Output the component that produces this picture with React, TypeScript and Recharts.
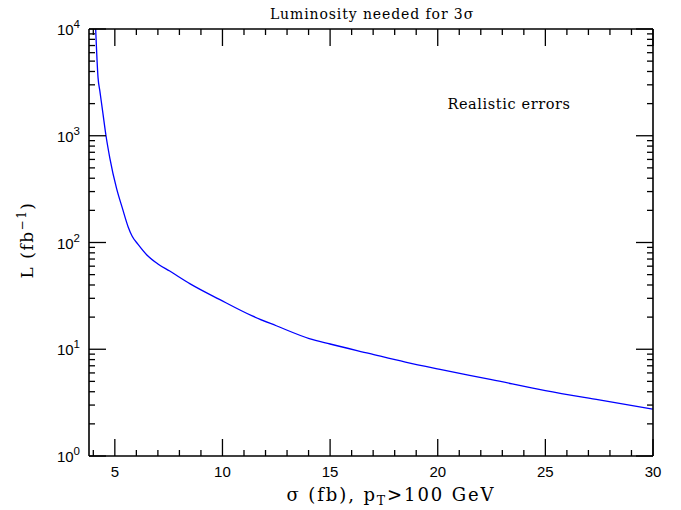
import React from 'react';
import { LineChart, Line, XAxis, YAxis, Customized } from 'recharts';

const sigmaValues = [4.11, 4.22, 4.31, 4.45, 4.59, 4.77, 5.08, 5.35, 5.62, 5.8, 6.08, 6.5, 7.0, 7.55, 8.5, 9.86, 11.41, 12.5, 14.03, 15, 16.81, 18.5, 20.05, 22.5, 25, 27.5, 30];
const lumiValues = [10000, 3500, 2580, 1600, 1000, 615, 321, 210, 140, 115, 96, 76, 63, 54, 41, 29.3, 20.4, 16.6, 12.6, 11.2, 9.14, 7.57, 6.5, 5.19, 4.1, 3.35, 2.75];

const xTicks = [4, 5, 6, 7, 8, 9, 10, 11, 12, 13, 14, 15, 16, 17, 18, 19, 20, 21, 22, 23, 24, 25, 26, 27, 28, 29, 30];
const xMajor = [5, 10, 15, 20, 25, 30];
const yTicks = [1, 2, 3, 4, 5, 6, 7, 8, 9, 10, 20, 30, 40, 50, 60, 70, 80, 90, 100, 200, 300, 400, 500, 600, 700, 800, 900, 1000, 2000, 3000, 4000, 5000, 6000, 7000, 8000, 9000, 10000];
const yMajor = [1, 10, 100, 1000, 10000];
const yExp: Record<number, string> = { 1: '0', 10: '1', 100: '2', 1000: '3', 10000: '4' };

const data = sigmaValues.map((s, i) => ({ sigma: s, lumi: lumiValues[i] }));

const MAJOR = 17;
const MINOR = 6;
const TICK_COLOR = '#000';
const SANS = '"Liberation Sans", Arial, sans-serif';
const SERIF = '"DejaVu Serif", serif';

const BottomTick = (props: any) => {
  const { x, y, payload } = props;
  const major = xMajor.includes(payload.value);
  const len = major ? MAJOR : MINOR;
  return (
    <g>
      <line x1={x} y1={y} x2={x} y2={y - len} stroke={TICK_COLOR} strokeWidth={1.3} />
      {major && (
        <text x={x} y={y + 21} textAnchor="middle" fontFamily={SANS} fontSize={15} fill="#000">
          {payload.value}
        </text>
      )}
    </g>
  );
};

const TopTick = (props: any) => {
  const { x, y, payload } = props;
  const major = xMajor.includes(payload.value);
  const len = major ? MAJOR : MINOR;
  return <line x1={x} y1={y} x2={x} y2={y + len} stroke={TICK_COLOR} strokeWidth={1.3} />;
};

const LeftTick = (props: any) => {
  const { x, y, payload } = props;
  const major = yMajor.includes(payload.value);
  const len = major ? MAJOR : MINOR;
  return (
    <g>
      <line x1={x} y1={y} x2={x + len} y2={y} stroke={TICK_COLOR} strokeWidth={1.3} />
      {major && (
        <text x={x - 9} y={y + 6} textAnchor="end" fontFamily={SANS} fontSize={15} fill="#000">
          10
          <tspan dy={-7} fontSize={11.5}>{yExp[payload.value]}</tspan>
        </text>
      )}
    </g>
  );
};

const RightTick = (props: any) => {
  const { x, y, payload } = props;
  const major = yMajor.includes(payload.value);
  const len = major ? MAJOR : MINOR;
  return <line x1={x} y1={y} x2={x - len} y2={y} stroke={TICK_COLOR} strokeWidth={1.3} />;
};

const Texts = () => (
  <g>
    <text x={372} y={19} textAnchor="middle" fontFamily={SERIF} fontSize={14} letterSpacing={0.9} fill="#000">
      Luminosity needed for 3σ
    </text>
    <text x={509} y={109} textAnchor="middle" fontFamily={SERIF} fontSize={14.5} letterSpacing={0.6} fill="#000">
      Realistic errors
    </text>
    <text x={391} y={501} textAnchor="middle" fontFamily={SERIF} fontSize={18} letterSpacing={1.9} fill="#000">
      σ (fb), p<tspan fontSize={12.5} dy={4}>T</tspan><tspan dy={-4}>&gt;100 GeV</tspan>
    </text>
    <text
      x={33}
      y={240}
      textAnchor="middle"
      fontFamily={SERIF}
      fontSize={17}
      letterSpacing={1.5}
      fill="#000"
      transform="rotate(-90 33 240)"
    >
      L (fb<tspan fontSize={12} dy={-7}>−1</tspan><tspan dy={7}>)</tspan>
    </text>
  </g>
);

export default function App() {
  return (
    <div style={{ position: 'absolute', left: 0, top: 0, background: '#fff' }}>
      <LineChart width={681} height={510} data={data} margin={{ top: 0, right: 0, bottom: 0, left: 29 }}>
        <XAxis
          xAxisId="bottom"
          dataKey="sigma"
          type="number"
          domain={[3.8, 30]}
          allowDataOverflow
          ticks={xTicks}
          interval={0}
          orientation="bottom"
          height={54}
          tickSize={0}
          tickMargin={0}
          tickLine={false}
          tick={<BottomTick />}
          axisLine={{ stroke: '#000', strokeWidth: 1.6 }}
        />
        <XAxis
          xAxisId="top"
          dataKey="sigma"
          type="number"
          domain={[3.8, 30]}
          allowDataOverflow
          ticks={xTicks}
          interval={0}
          orientation="top"
          height={29}
          tickSize={0}
          tickMargin={0}
          tickLine={false}
          tick={<TopTick />}
          axisLine={{ stroke: '#000', strokeWidth: 1.6 }}
        />
        <YAxis
          yAxisId="left"
          dataKey="lumi"
          scale="log"
          type="number"
          domain={[1, 10000]}
          allowDataOverflow
          ticks={yTicks}
          interval={0}
          orientation="left"
          width={60}
          tickSize={0}
          tickMargin={0}
          tickLine={false}
          tick={<LeftTick />}
          axisLine={{ stroke: '#000', strokeWidth: 1.6 }}
        />
        <YAxis
          yAxisId="right"
          dataKey="lumi"
          scale="log"
          type="number"
          domain={[1, 10000]}
          allowDataOverflow
          ticks={yTicks}
          interval={0}
          orientation="right"
          width={28}
          tickSize={0}
          tickMargin={0}
          tickLine={false}
          tick={<RightTick />}
          axisLine={{ stroke: '#000', strokeWidth: 1.6 }}
        />
        <Line
          xAxisId="bottom"
          yAxisId="left"
          dataKey="lumi"
          type="monotone"
          stroke="#0000ff"
          strokeWidth={1.3}
          dot={false}
          isAnimationActive={false}
        />
        <Customized component={Texts} />
      </LineChart>
    </div>
  );
}
